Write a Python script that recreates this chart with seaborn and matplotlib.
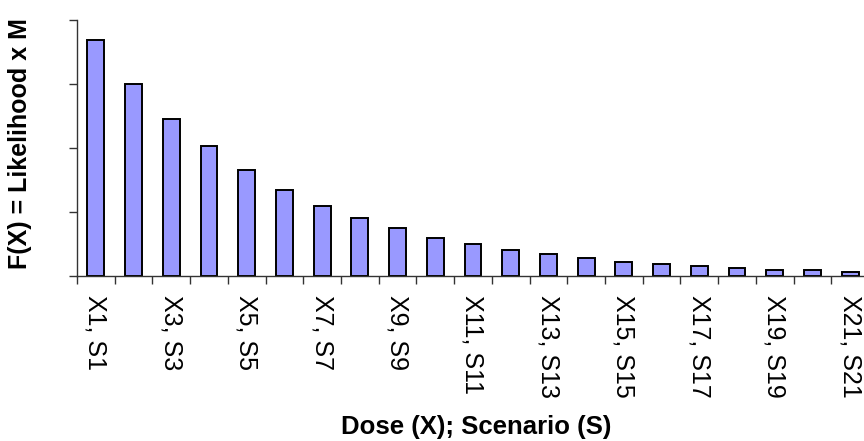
import numpy as np
import pandas as pd
import seaborn as sns
from matplotlib import pyplot as plt
from matplotlib.ticker import FixedLocator, NullFormatter

# values (y axis has no labels, ticks at 0..4)
scenarios = [f"X{i}, S{i}" for i in range(1, 22)]
f_values = [3.68, 3.00, 2.46, 2.03, 1.65, 1.34, 1.09, 0.90, 0.745, 0.59, 0.50,
            0.40, 0.34, 0.28, 0.22, 0.19, 0.16, 0.13, 0.10, 0.10, 0.07]
tick_labels = [s if i % 2 == 0 else "" for i, s in enumerate(scenarios)]
y_ticks = [0, 1, 2, 3, 4]

sns.set_style("ticks")
plt.rcParams['font.family'] = ['Liberation Sans', 'DejaVu Sans']
plt.rcParams['text.color'] = 'black'
plt.rcParams['axes.labelcolor'] = 'black'
plt.rcParams['xtick.color'] = 'black'
plt.rcParams['ytick.color'] = 'black'

df = pd.DataFrame({'scenario': scenarios, 'f': f_values})

fig = plt.figure(figsize=(8.64, 4.41), dpi=100)
ax = fig.add_axes([77 / 864, 165 / 441, 792 / 864, 256 / 441])

sns.barplot(data=df, x='scenario', y='f', color='#9999FF', edgecolor='black',
            linewidth=1.4, width=0.45, saturation=1, ax=ax)

ax.set_xlim(-0.5, len(scenarios) - 0.5)
ax.set_ylim(0, 4)
ax.set_yticks(y_ticks)
ax.yaxis.set_major_formatter(NullFormatter())
ax.tick_params(axis='y', direction='out', length=6, width=1, color='#333333')

# labels at bar centres, tick marks on category boundaries
ax.set_xticks(range(len(scenarios)))
ax.set_xticklabels(tick_labels, rotation=-90, ha='center', va='top', fontsize=18)
ax.tick_params(axis='x', which='major', length=0, pad=14)
ax.xaxis.set_minor_locator(FixedLocator(np.arange(-0.5, len(scenarios), 1.0)))
ax.tick_params(axis='x', which='minor', direction='out', length=6, width=1, color='#333333')

sns.despine(ax=ax)
for side in ['left', 'bottom']:
    ax.spines[side].set_color('#333333')
    ax.spines[side].set_linewidth(1)

ax.set_xlabel("Dose (X); Scenario (S)", fontsize=18.5, fontweight='bold')
ax.xaxis.label.set_va('center')
ax.xaxis.set_label_coords(0.504, -0.59)
ax.set_ylabel("F(X) = Likelihood x M", fontsize=18, fontweight='bold')
ax.yaxis.label.set_va('center')
ax.yaxis.set_label_coords(-0.072, 0.516)

fig.savefig('out.png', dpi=100)
